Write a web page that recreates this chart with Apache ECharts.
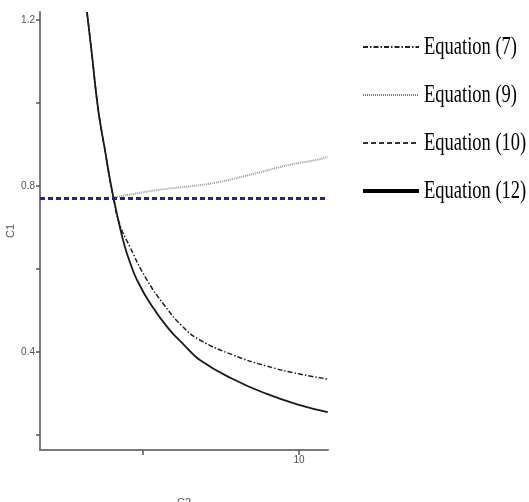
<!DOCTYPE html>
<html>
<head>
<meta charset="utf-8">
<script src="https://cdn.jsdelivr.net/npm/echarts@6/dist/echarts.min.js"></script>
<style>
html,body{margin:0;padding:0;background:#fff;}
#chart{width:529px;height:502px;}
</style>
</head>
<body>
<div id="chart"></div>
<script>
// C2 values (x) and C1 values (y)
const eq7X  = [3.214, 3.373, 3.533, 3.661, 3.789, 3.917, 4.045, 4.237, 4.589, 5.133, 5.709, 6.253, 6.828, 7.884, 8.972, 10.028, 10.923];
const eq7Y  = [1.219, 1.116, 1.007, 0.941, 0.887, 0.829, 0.778, 0.713, 0.653, 0.574, 0.511, 0.463, 0.429, 0.393, 0.366, 0.347, 0.335];
const eq9X  = [4.05, 4.49, 5.55, 6.60, 7.47, 8.65, 9.71, 10.57, 10.92];
const eq9Y  = [0.772, 0.778, 0.791, 0.800, 0.810, 0.831, 0.851, 0.863, 0.870];
const eq10X = [1.71, 10.93];
const eq10Y = [0.77, 0.77];
const eq12X = [3.214, 3.373, 3.533, 3.661, 3.789, 3.917, 4.045, 4.237, 4.429, 4.621, 4.813, 5.229, 5.805, 6.349, 6.828, 7.884, 8.972, 10.028, 10.923];
const eq12Y = [1.219, 1.116, 1.007, 0.941, 0.887, 0.829, 0.778, 0.711, 0.653, 0.610, 0.574, 0.518, 0.458, 0.415, 0.381, 0.335, 0.299, 0.272, 0.255];
const seriesNames = ['Equation (7)', 'Equation (9)', 'Equation (10)', 'Equation (12)'];
const xTickValues = [5, 10];
const xLabelValues = [10];
const yTickValues = [0.2, 0.4, 0.6, 0.8, 1.0, 1.2];
const yLabelValues = [0.4, 0.8, 1.2];

const zip = (xs, ys) => xs.map((x, i) => [x, ys[i]]);

const chart = echarts.init(document.getElementById('chart'), null, {renderer: 'canvas'});
const axisCommon = {
  type: 'value',
  splitLine: {show: false},
  axisLine: {show: true, onZero: false, lineStyle: {color: '#7a7a7a', width: 2}},
  axisLabel: {color: '#4a5260', fontSize: 10, fontFamily: 'Liberation Sans Narrow, Arial', margin: 5},
  nameTextStyle: {color: '#555', fontSize: 11, fontFamily: 'Liberation Sans Narrow, Arial'}
};
chart.setOption({
  animation: false,
  backgroundColor: '#fff',
  grid: {left: 40, right: 201, top: 12, bottom: 52, containLabel: false, outerBoundsMode: 'none'},
  legend: {
    orient: 'vertical',
    left: 356,
    top: 28,
    itemWidth: 56,
    itemHeight: 14,
    itemGap: 20,
    itemStyle: {opacity: 0},
    textStyle: {color: '#000', fontSize: 25, lineHeight: 28, fontFamily: 'Liberation Serif, Times New Roman, serif'},
    data: [
      {name: seriesNames[0]},
      {name: seriesNames[1], lineStyle: {color: '#777', width: 2}},
      {name: seriesNames[2], lineStyle: {color: '#333', width: 2}},
      {name: seriesNames[3], lineStyle: {color: '#000', width: 4}}
    ]
  },
  xAxis: Object.assign({}, axisCommon, {
    min: 1.71, max: 10.93,
    name: 'C2', nameLocation: 'middle', nameGap: 47,
    axisTick: {show: true, length: 5, customValues: xTickValues, lineStyle: {color: '#555', width: 1.5}},
    axisLabel: Object.assign({}, axisCommon.axisLabel, {customValues: xLabelValues, formatter: v => String(Math.round(v))})
  }),
  yAxis: Object.assign({}, axisCommon, {
    min: 0.164, max: 1.219,
    name: 'C1', nameLocation: 'middle', nameGap: 24, nameRotate: 90, nameMoveOverlap: false,
    axisTick: {show: true, length: 4, customValues: yTickValues, lineStyle: {color: '#555', width: 1.5}},
    axisLabel: Object.assign({}, axisCommon.axisLabel, {customValues: yLabelValues, formatter: v => v.toFixed(1)})
  }),
  series: [
    {name: seriesNames[0], type: 'line', symbol: 'none', smooth: 0.5, clip: true, z: 3,
     itemStyle: {color: '#222'},
     data: zip(eq7X, eq7Y), lineStyle: {color: '#222', width: 1.5, type: [5, 2, 1.5, 2]}},
    {name: seriesNames[1], type: 'line', symbol: 'none', smooth: 0.5, clip: true, z: 2,
     itemStyle: {color: '#9a9a9a'},
     data: zip(eq9X, eq9Y), lineStyle: {color: '#9a9a9a', width: 2, type: [1, 1]}},
    {name: seriesNames[2], type: 'line', symbol: 'none', clip: true, z: 4,
     itemStyle: {color: '#232390'},
     data: zip(eq10X, eq10Y), lineStyle: {color: '#232390', width: 3, type: [5, 3]}},
    {name: seriesNames[3], type: 'line', symbol: 'none', smooth: 0.5, clip: true, z: 3,
     itemStyle: {color: '#1a1a1a'},
     data: zip(eq12X, eq12Y), lineStyle: {color: '#1a1a1a', width: 1.8}}
  ]
});

// The reference legend type is horizontally condensed; squeeze the legend texts to match.
(function squeezeLegend() {
  try {
    const zr = chart.getZr();
    zr.storage.getRoots().forEach(function (root) {
      root.traverse(function (el) {
        if (el.type === 'text' && el.style && typeof el.style.text === 'string'
            && el.style.text.indexOf('Equation') === 0) {
          el.originX = el.style.x || 0;
          el.originY = el.style.y || 0;
          el.scaleX = 0.74;
          el.markRedraw();
        }
      });
    });
    zr.refreshImmediately();
  } catch (e) {}
})();
</script>
</body>
</html>
